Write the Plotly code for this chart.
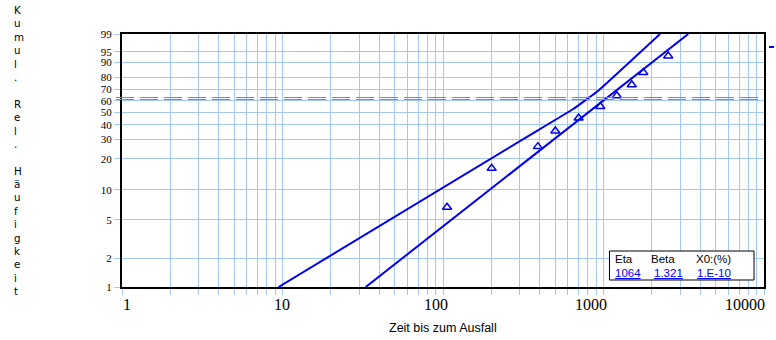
import numpy as np
import plotly.graph_objects as go

# ---------------- data ----------------
x_ticks = [1, 10, 100, 1000, 10000]
x_tick_labels = ["1", "10", "100", "1000", "10000"]
x_minor = [m * d for d in [1, 10, 100, 1000] for m in range(2, 10)]
y_ticks_pct = [1, 2, 5, 10, 20, 30, 40, 50, 60, 70, 80, 90, 95, 99]
y_tick_labels = [str(v) for v in y_ticks_pct]

fail_times = [106, 201, 390, 501, 700, 955, 1210, 1500, 1770, 2530]
fail_pct = [6.7, 16.3, 26.0, 35.6, 45.2, 54.8, 64.4, 74.0, 83.7, 93.3]

fit_times = [33, 3373]
fit_pct = [1.0, 99.0]

bound_times = [9.45, 310, 651, 784, 931, 2250]
bound_pct = [1.0, 29.8, 52.9, 61.2, 69.1, 99.0]

eta_line_pct = 63.2
legend_header = ["Eta", "Beta", "X0:(%)"]
legend_values = ["1064", "1.321", "1.E-10"]
x_title = "Zeit bis zum Ausfall"
y_title = "Kumul. Rel. Häufigkeit"


def weib(p):
    p = np.asarray(p, dtype=float) / 100.0
    return np.log(-np.log(1.0 - p))


# ---------------- layout geometry ----------------
W, H = 776, 340
L, R, T, B = 122, 10, 34, 53
PW, PH = W - L - R, H - T - B


def px_x(px):
    return (px - L) / PW


def px_y(py):
    return (H - B - py) / PH


BLUE = "#0000ee"
GRID = "#a3c8f2"
GREEN = "#11dd11"

fig = go.Figure()

fig.add_trace(go.Scatter(
    x=bound_times, y=weib(bound_pct), mode="lines",
    line=dict(color=BLUE, width=2, shape="spline", smoothing=0.4),
    showlegend=False, hoverinfo="skip"))
fig.add_trace(go.Scatter(
    x=fit_times, y=weib(fit_pct), mode="lines",
    line=dict(color=BLUE, width=2), showlegend=False, hoverinfo="skip"))
fig.add_trace(go.Scatter(
    x=fail_times, y=weib(fail_pct), mode="markers",
    marker=dict(symbol="triangle-up-open", size=8, color=BLUE,
                line=dict(width=1.5, color=BLUE)),
    showlegend=False))

# green double dashed line at 63.2 %
for off in [-0.44, -2.44]:
    fig.add_shape(type="line", xref="paper", yref="y",
                  x0=px_x(116), x1=1.0,
                  ysizemode="pixel", yanchor=float(weib([eta_line_pct])[0]),
                  y0=off, y1=off,
                  line=dict(color=GREEN, width=1, dash="18px,6px"),
                  layer="above")

# parameter box
fig.add_shape(type="rect", xref="paper", yref="paper",
              x0=px_x(611), x1=px_x(756), y0=px_y(280), y1=px_y(251),
              line=dict(color="black", width=1), fillcolor="white",
              layer="above")

# small legend marker at top right
fig.add_shape(type="line", xref="paper", yref="paper",
              x0=px_x(771), x1=px_x(776), y0=px_y(47), y1=px_y(47),
              line=dict(color=BLUE, width=2), layer="above")

annotations = []
hdr_x = [615, 651, 696]
val_x = [615, 654, 697]
for txt, xp in zip(legend_header, hdr_x):
    annotations.append(dict(text=txt, xref="paper", yref="paper",
                            x=px_x(xp), y=px_y(258.5), xanchor="left",
                            yanchor="middle", showarrow=False,
                            font=dict(family="Liberation Sans", size=11.5,
                                      color="black")))
for txt, xp in zip(legend_values, val_x):
    annotations.append(dict(text="<u>" + txt + "</u>", xref="paper",
                            yref="paper", x=px_x(xp), y=px_y(273),
                            xanchor="left", yanchor="middle",
                            showarrow=False,
                            font=dict(family="Liberation Sans", size=11.5,
                                      color="#0000ff")))

# x tick labels (placed on the axis scale)
for i, (v, lab) in enumerate(zip(x_ticks, x_tick_labels)):
    annotations.append(dict(text=lab, xref="x", yref="paper",
                            x=float(np.log10(v)), y=0, yshift=-17,
                            xshift=5 - 6 * i, xanchor="center",
                            yanchor="middle", showarrow=False,
                            font=dict(family="Liberation Serif", size=16,
                                      color="black")))

# x axis title
annotations.append(dict(text=x_title, xref="paper", yref="paper",
                        x=0.5, y=px_y(328), xanchor="center",
                        yanchor="middle", showarrow=False,
                        font=dict(family="Liberation Sans", size=12.5,
                                  color="black")))

# vertical (stacked) y axis title, one character per line
annotations.append(dict(text="<br>".join(list(y_title)), xref="paper",
                        yref="paper", x=px_x(12), y=px_y(1.5),
                        xanchor="left", yanchor="top", align="left",
                        showarrow=False,
                        font=dict(family="DejaVu Sans", size=10.3,
                                  color="black")))

fig.update_layout(
    width=W, height=H,
    margin=dict(l=L, r=R, t=T, b=B, pad=0),
    paper_bgcolor="white", plot_bgcolor="white",
    annotations=annotations,
    xaxis=dict(
        type="log", range=[0, 4],
        tickmode="array", tickvals=x_ticks, showticklabels=False,
        ticks="outside", ticklen=6, tickcolor=GRID, tickwidth=1,
        showgrid=True, gridcolor=GRID, gridwidth=1,
        minor=dict(tickmode="array", tickvals=x_minor, ticks="outside",
                   ticklen=6, tickcolor=GRID, showgrid=True,
                   gridcolor=GRID, gridwidth=1),
        showline=True, linecolor="black", linewidth=2, mirror=True,
        zeroline=False, fixedrange=True,
    ),
    yaxis=dict(
        range=[float(weib([1])[0]), float(weib([99])[0])],
        tickmode="array", tickvals=weib(y_ticks_pct).tolist(),
        ticktext=y_tick_labels,
        ticks="outside", ticklen=6, tickcolor=GRID, tickwidth=1,
        tickfont=dict(family="Liberation Serif", size=11, color="black"),
        showgrid=True, gridcolor=GRID, gridwidth=1,
        showline=True, linecolor="black", linewidth=2, mirror=True,
        zeroline=False, fixedrange=True,
    ),
)

fig.write_html("out.html")
